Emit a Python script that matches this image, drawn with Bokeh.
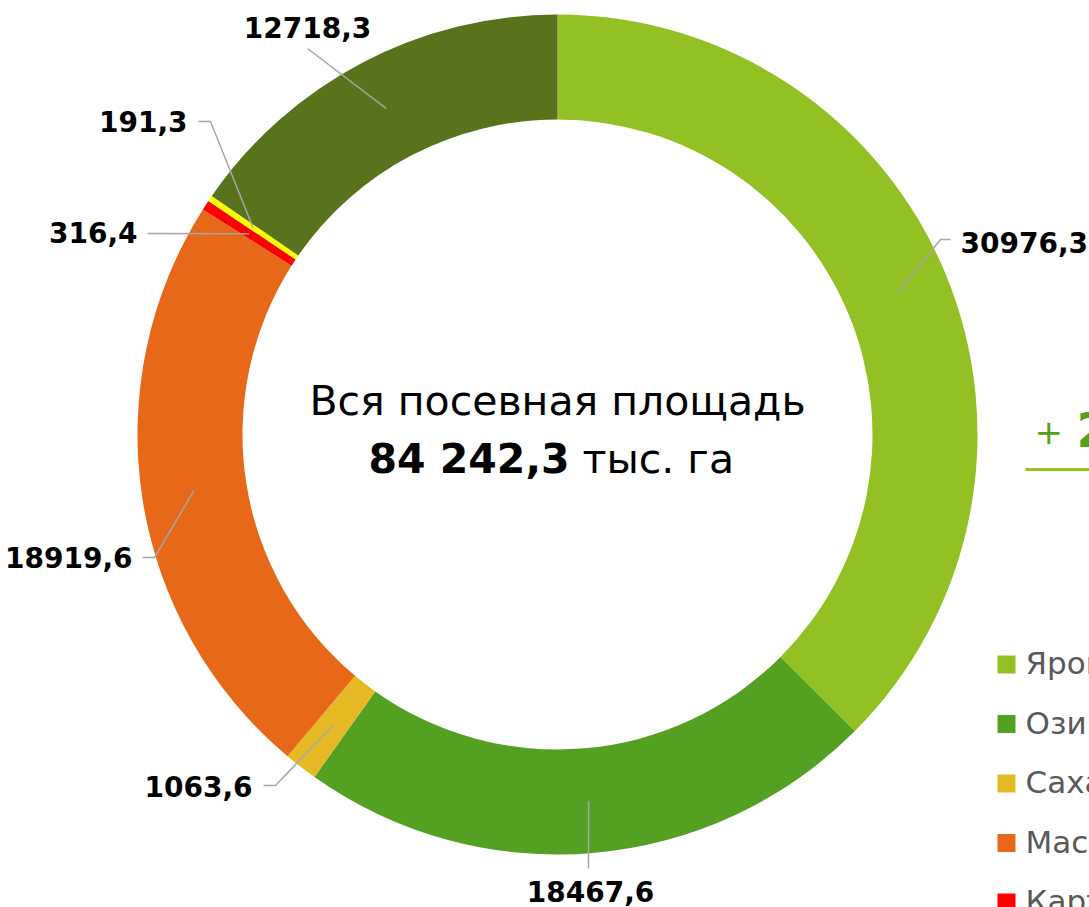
import math
from bokeh.plotting import figure
from bokeh.models import Range1d
from bokeh.core.properties import value
from bokeh.embed import file_html
from bokeh.resources import INLINE

# ---------------- data ----------------
categories = ["Яровые зерновые", "Озимые зерновые", "Сахарная свекла",
              "Масличные культуры", "Картофель", "Овощи", "Кормовые культуры"]
values = [30976.3, 18467.6, 1063.6, 18919.6, 316.4, 191.3, 12718.3]
colors = ["#93C022", "#54A022", "#E4B923", "#E8681A", "#FF0000", "#FFFF00", "#58731B"]
center_title = "Вся посевная площадь"
center_total = "84 242,3"
center_unit = "тыс. га"
side_note = "+ 2"

# ---------------- layout ----------------
W, H = 1089, 907
BASE_FIX = 0.4  # baseline correction, in em


def Y(sy):
    return H - sy


def TY(baseline, size):
    return Y(baseline - BASE_FIX * size)


p = figure(width=W, height=H, output_backend="svg", toolbar_location=None,
           x_range=Range1d(0, W), y_range=Range1d(0, H),
           x_axis_location=None, y_axis_location=None, min_border=0)
p.outline_line_color = None
p.xgrid.visible = False
p.ygrid.visible = False
p.background_fill_color = "white"

CX, CY = 557, 434
R_OUT, R_IN = 420, 315
R_LEAD = 368

total = sum(values)
starts, ends, mids = [], [], []
cum = 0.0
for v in values:
    a0 = math.pi / 2 - 2 * math.pi * cum / total
    cum += v
    a1 = math.pi / 2 - 2 * math.pi * cum / total
    starts.append(a0)
    ends.append(a1)
    mids.append((a0 + a1) / 2)

p.annular_wedge(x=[CX] * len(values), y=[Y(CY)] * len(values),
                inner_radius=R_IN, outer_radius=R_OUT,
                start_angle=starts, end_angle=ends, direction="clock",
                fill_color=colors, line_color=None)

# label layout: (elbow_screen, end_screen, text_x, text_baseline_screen, align)
label_layout = [
    ((940, 239), (950, 239), 960, 253, "left"),
    (None, (588, 868), 590, 902, "center"),
    ((275, 785), (263, 785), 252, 797, "right"),
    ((154, 557), (142, 557), 132, 568, "right"),
    (None, (147, 233), 137, 243, "right"),
    ((210, 121), (198, 121), 187, 132, "right"),
    (None, (307, 48), 307, 38, "center"),
]

FONT = value("DejaVu Sans")
LS = 28
for v, m, lay in zip(values, mids, label_layout):
    sx = CX + R_LEAD * math.cos(m)
    sy = CY - R_LEAD * math.sin(m)
    elbow, end, tx, tby, align = lay
    xs, ys = [sx], [Y(sy)]
    if elbow is not None:
        xs.append(elbow[0]); ys.append(Y(elbow[1]))
    xs.append(end[0]); ys.append(Y(end[1]))
    p.line(xs, ys, line_color="#A6A6A6", line_width=1.5)
    txt = f"{v:.1f}".replace(".", ",")
    p.text(x=[tx], y=[TY(tby, LS)], text=[txt], text_font=FONT,
           text_font_size=f"{LS}px", text_font_style="bold", text_color="#000000",
           text_align=align, text_baseline="alphabetic")

# center text
CS = 41
p.text(x=[CX], y=[TY(417, CS)], text=[center_title], text_font=FONT,
       text_font_size=f"{CS}px", text_color="#000000", text_align="center",
       text_baseline="alphabetic")
p.text(x=[569], y=[TY(475, CS)], text=[center_total], text_font=FONT,
       text_font_size=f"{CS}px", text_font_style="bold", text_color="#000000",
       text_align="right", text_baseline="alphabetic")
p.text(x=[582], y=[TY(475, CS)], text=[center_unit], text_font=FONT,
       text_font_size=f"{CS}px", text_color="#000000", text_align="left",
       text_baseline="alphabetic")

# side note (clipped at the right edge, as in the source)
plus_sign, digit = side_note.split(" ")
p.text(x=[1034], y=[TY(445, 34)], text=[plus_sign], text_font=FONT,
       text_font_size="34px", text_color="#52A021", text_align="left",
       text_baseline="alphabetic")
p.text(x=[1076], y=[TY(448, 48)], text=[digit], text_font=FONT,
       text_font_size="48px", text_font_style="bold", text_color="#52A021",
       text_align="left", text_baseline="alphabetic")
p.line([1025, W + 20], [Y(469), Y(469)], line_color="#93C022", line_width=3)

# legend (partly clipped by the window edge, as in the source)
n_leg = 5
GS = 31
leg_y = [664 + 59.5 * i for i in range(n_leg)]
p.rect(x=[1006] * n_leg, y=[Y(v) for v in leg_y], width=18, height=18,
       fill_color=colors[:n_leg], line_color=None)
p.text(x=[1025] * n_leg, y=[TY(v + 11, GS) for v in leg_y], text=categories[:n_leg],
       text_font=FONT, text_font_size=f"{GS}px", text_color="#595959",
       text_align="left", text_baseline="alphabetic")

open("out.html", "w").write(file_html(p, INLINE))
